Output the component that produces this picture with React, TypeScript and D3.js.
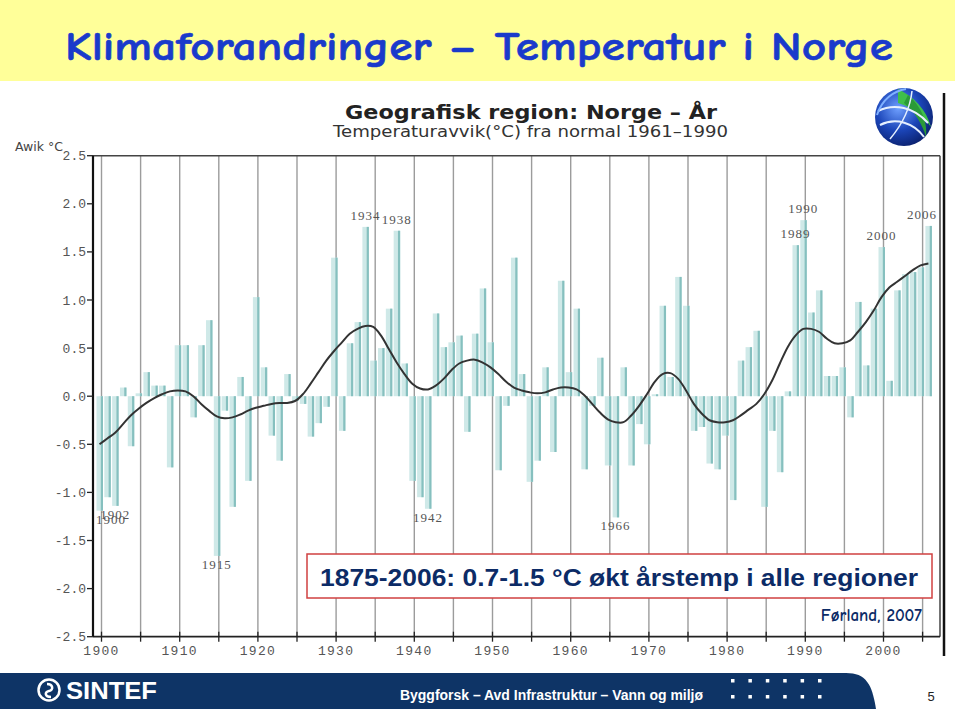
import React from "react";
import * as d3 from "d3";

// ---------- DATA ----------
const START_YEAR = 1900;
// Annual temperature anomaly (°C) from the 1961-1990 normal, 1900..2006
const ANOMALY = [
  -1.19, -1.05, -1.14, 0.09, -0.52, 0.03, 0.25, 0.11, 0.11, -0.74,
  0.53, 0.53, -0.22, 0.53, 0.79, -1.66, -0.15, -1.15, 0.2, -0.88,
  1.03, 0.3, -0.41, -0.67, 0.23, -0.05, -0.08, -0.42, -0.28, -0.11,
  1.44, -0.36, 0.55, 0.77, 1.76, 0.37, 0.5, 0.91, 1.72, 0.34,
  -0.88, -1.05, -1.17, 0.86, 0.51, 0.56, 0.63, -0.37, 0.65, 1.12,
  0.56, -0.77, -0.1, 1.44, 0.23, -0.89, -0.67, 0.3, -0.58, 1.2,
  0.25, 0.91, -0.76, -0.1, 0.4, -0.72, -1.26, 0.3, -0.72, -0.29,
  -0.5, 0.02, 0.94, 0.2, 1.24, 0.94, -0.36, -0.32, -0.7, -0.76,
  -0.41, -1.08, 0.37, 0.51, 0.68, -1.15, -0.36, -0.79, 0.05, 1.57,
  1.83, 0.87, 1.1, 0.21, 0.21, 0.3, -0.22, 0.98, 0.32, 0.91,
  1.55, 0.16, 1.1, 1.27, 1.29, 1.34, 1.77,
];
// Smoothed curve (°C), 1900..2006
const SMOOTH = [
  -0.5, -0.44, -0.38, -0.29, -0.2, -0.13, -0.07, -0.02, 0.02, 0.05,
  0.06, 0.05, 0.0, -0.08, -0.15, -0.21, -0.23, -0.22, -0.19, -0.15,
  -0.12, -0.1, -0.08, -0.07, -0.07, -0.05, 0.02, 0.13, 0.25, 0.37,
  0.47, 0.56, 0.65, 0.7, 0.73, 0.72, 0.63, 0.49, 0.35, 0.23,
  0.13, 0.08, 0.07, 0.11, 0.18, 0.27, 0.34, 0.37, 0.38, 0.35,
  0.3, 0.23, 0.15, 0.09, 0.06, 0.04, 0.03, 0.04, 0.07, 0.09,
  0.09, 0.07, 0.01, -0.08, -0.17, -0.24, -0.27, -0.27, -0.2, -0.1,
  0.02, 0.15, 0.23, 0.24, 0.18, 0.06, -0.08, -0.18, -0.25, -0.27,
  -0.27, -0.25, -0.2, -0.14, -0.08, 0.02, 0.16, 0.34, 0.51, 0.63,
  0.7, 0.7, 0.67, 0.6, 0.55, 0.55, 0.58, 0.67, 0.77, 0.89,
  1.03, 1.13, 1.19, 1.25, 1.31, 1.36, 1.38,
];
const Y_TICKS = [2.5, 2.0, 1.5, 1.0, 0.5, 0.0, -0.5, -1.0, -1.5, -2.0, -2.5];
const X_LABEL_YEARS = [1900, 1910, 1920, 1930, 1940, 1950, 1960, 1970, 1980, 1990, 2000];
const GRID_YEARS = [1900, 1905, 1910, 1915, 1920, 1925, 1930, 1935, 1940, 1945, 1950, 1955, 1960, 1965, 1970, 1975, 1980, 1985, 1990, 1995, 2000, 2005];
const MARKED_YEARS = [1900, 1902, 1915, 1934, 1938, 1942, 1966, 1989, 1990, 2000, 2006];

const TITLE = "Klimaforandringer – Temperatur i Norge";
const CHART_TITLE = "Geografisk region: Norge – År";
const CHART_SUB = "Temperaturavvik(°C) fra normal 1961–1990";
const Y_LABEL = "Awik °C";
const NOTE = "1875-2006: 0.7-1.5 °C økt årstemp i alle regioner";
const SOURCE = "Førland, 2007";
const FOOTER = "Byggforsk – Avd Infrastruktur – Vann og miljø";
const PAGE = "5";

export default function App() {
  const W = 960, H = 709;
  const plot = { left: 93, right: 940, top: 155.7, bottom: 636.7 };
  const x = d3.scaleLinear().domain([1900, 2000]).range([101.5, 883.5]);
  const y = d3.scaleLinear().domain([-2.5, 2.5]).range([plot.bottom, plot.top]);
  const bars = ANOMALY.map((v, i) => ({ year: START_YEAR + i, v }));
  const smooth = SMOOTH.map((v, i) => ({ year: START_YEAR + i, v }));
  const line = d3
    .line<{ year: number; v: number }>()
    .x((d) => x(d.year) - 2)
    .y((d) => y(d.v))
    .curve(d3.curveCatmullRom.alpha(0.5));
  const bw = 6.5;
  const monoFont = "'Liberation Mono', 'DejaVu Sans Mono', monospace";

  return (
    <div style={{ position: "absolute", left: 0, top: 0, width: W, height: H }}>
      <style>{`body{margin:0}`}</style>
      <svg width={W} height={H} viewBox={`0 0 ${W} ${H}`} style={{ display: "block", background: "#fff" }}>
        <defs>
          <radialGradient id="globe" cx="40%" cy="35%" r="70%">
            <stop offset="0%" stopColor="#6fa0ff" />
            <stop offset="55%" stopColor="#1b45b8" />
            <stop offset="100%" stopColor="#0a1f6b" />
          </radialGradient>
        </defs>

        {/* Title band */}
        <rect x={0} y={0} width={955} height={81} fill="#ffff99" />
        <text
          x={65}
          y={60}
          fontFamily="'Comic Sans MS', 'Comic Neue', Lato, 'Open Sans', sans-serif"
          fontWeight="bold"
          fontSize={40}
          fill="#1a3acb"
          stroke="#1a3acb"
          strokeWidth={0.6}
          textLength={828}
          lengthAdjust="spacingAndGlyphs"
        >
          {TITLE}
        </text>

        {/* Chart header */}
        <text x={345} y={119} fontFamily="'DejaVu Sans', Verdana, sans-serif" fontWeight="bold" fontSize={20} fill="#222" textLength={372} lengthAdjust="spacingAndGlyphs">
          {CHART_TITLE}
        </text>
        <text x={333} y={137} fontFamily="'DejaVu Sans', Verdana, sans-serif" fontSize={15} fill="#333" textLength={395} lengthAdjust="spacingAndGlyphs">
          {CHART_SUB}
        </text>

        {/* Globe logo */}
        <g transform="translate(904,117)">
          <circle r={29} fill="url(#globe)" />
          <path d="M-6,-28 C10,-20 22,-8 27,10 C20,0 8,-10 -6,-14 Z" fill="#3fbf4a" />
          <path d="M4,-22 C16,-12 24,4 22,20 C18,6 10,-6 0,-14 Z" fill="#2a9a38" />
          <path d="M-26,-6 C-10,-14 10,-10 24,6" stroke="#e6f0ff" strokeWidth={2} fill="none" />
          <path d="M-24,8 C-8,0 10,6 20,20" stroke="#e6f0ff" strokeWidth={2} fill="none" />
          <path d="M-14,22 C-4,10 6,-6 8,-26" stroke="#e6f0ff" strokeWidth={1.5} fill="none" />
          <path d="M-27,-2 C-22,-18 -10,-26 2,-28" stroke="#7fb0ff" strokeWidth={2} fill="none" />
        </g>

        {/* Outer image border on the right */}
        <line x1={944} x2={944} y1={93} y2={656} stroke="#111" strokeWidth={2.5} />

        {/* Grid lines every 5 years */}
        {GRID_YEARS.map((yr) => (
          <line key={"g" + yr} x1={x(yr)} x2={x(yr)} y1={plot.top} y2={plot.bottom} stroke="#9c9c9c" strokeWidth={1.4} />
        ))}

        {/* Bars */}
        {bars.map((d) => {
          const y0 = y(0);
          const y1 = y(d.v);
          const top = Math.min(y0, y1);
          const h = Math.abs(y1 - y0);
          const left = x(d.year) - 5;
          return (
            <g key={"b" + d.year}>
              <rect x={left} y={top} width={bw} height={h} fill="#cfe9e8" />
              <rect x={left + bw - 2.2} y={top} width={2.2} height={h} fill="#86c0bf" />
            </g>
          );
        })}

        {/* Smoothed curve */}
        <path d={line(smooth) || ""} fill="none" stroke="#333" strokeWidth={2} />

        {/* Frame */}
        <line x1={plot.left} x2={plot.right} y1={plot.top} y2={plot.top} stroke="#444" strokeWidth={1.5} />
        <line x1={plot.right} x2={plot.right} y1={plot.top} y2={plot.bottom} stroke="#444" strokeWidth={1.5} />
        <line x1={plot.left} x2={plot.right} y1={plot.bottom} y2={plot.bottom} stroke="#222" strokeWidth={1.8} />
        <line x1={plot.left} x2={plot.left} y1={plot.top} y2={plot.bottom} stroke="#111" strokeWidth={2.2} />

        {/* Y ticks and labels */}
        {Y_TICKS.map((t) => (
          <g key={"y" + t}>
            <line x1={plot.left - 6} x2={plot.left} y1={y(t)} y2={y(t)} stroke="#222" strokeWidth={1.3} />
            <text x={plot.left - 7} y={y(t)} dy="0.35em" textAnchor="end" fontFamily={monoFont} fontSize={13} fill="#555">
              {t.toFixed(1)}
            </text>
          </g>
        ))}
        <text x={15} y={151} fontFamily="'DejaVu Sans', Verdana, sans-serif" fontSize={12.5} fill="#444">
          {Y_LABEL}
        </text>

        {/* X ticks and labels */}
        {GRID_YEARS.map((yr) => (
          <line key={"xt" + yr} x1={x(yr)} x2={x(yr)} y1={plot.bottom - 5} y2={plot.bottom + 5} stroke="#222" strokeWidth={1.3} />
        ))}
        {X_LABEL_YEARS.map((yr) => (
          <text key={"xl" + yr} x={x(yr)} y={655} textAnchor="middle" fontFamily={monoFont} fontSize={13} letterSpacing={1.3} fill="#555">
            {yr}
          </text>
        ))}

        {/* Marked extreme years */}
        {MARKED_YEARS.map((yr) => {
          const v = ANOMALY[yr - START_YEAR];
          const half = 18;
          let cx = x(yr) - 2;
          cx = Math.max(plot.left + half, Math.min(plot.right - half, cx));
          const ty = v >= 0 ? y(v) - 7 : y(v) + 13;
          return (
            <text key={"m" + yr} x={cx} y={ty} textAnchor="middle" fontFamily="'Liberation Serif', 'DejaVu Serif', serif" fontSize={13} letterSpacing={1} fill="#555">
              {yr}
            </text>
          );
        })}

        {/* Note box */}
        <rect x={307} y={554} width={625} height={44} fill="#fff" stroke="#d04040" strokeWidth={1.5} />
        <text x={320} y={586} fontFamily="'Liberation Sans', Arial, sans-serif" fontWeight="bold" fontSize={23} fill="#0c2b66" textLength={598} lengthAdjust="spacingAndGlyphs">
          {NOTE}
        </text>
        <text x={922} y={621} textAnchor="end" fontFamily="'Comic Sans MS', 'Comic Neue', Lato, sans-serif" fontWeight="bold" fontSize={17} fill="#0c2b66">
          {SOURCE}
        </text>

        {/* Footer band */}
        <path d="M0,673 H846 C866,673 872,684 876,709 H0 Z" fill="#0e3466" />
        <g transform="translate(49,690)">
          <circle r={10.5} fill="none" stroke="#fff" strokeWidth={2.5} />
          <path d="M-2,-6 C4,-6 5,0 0,1 C-5,2 -4,7 2,7" stroke="#fff" strokeWidth={2.5} fill="none" />
        </g>
        <text x={66} y={699} fontFamily="'Liberation Sans', Arial, sans-serif" fontWeight="bold" fontSize={24} fill="#fff" textLength={91} lengthAdjust="spacingAndGlyphs">
          SINTEF
        </text>
        <text x={400} y={700} fontFamily="'Liberation Sans Narrow', 'Liberation Sans', Arial, sans-serif" fontWeight="bold" fontSize={14} fill="#fff" textLength={303} lengthAdjust="spacingAndGlyphs">
          {FOOTER}
        </text>
        {[0, 1, 2, 3, 4, 5].map((i) => (
          <g key={"dot" + i}>
            <rect x={731 + i * 17.4} y={679} width={3.5} height={3.5} fill="#fff" />
            <rect x={731 + i * 17.4} y={695} width={3.5} height={3.5} fill="#fff" />
          </g>
        ))}
        <text x={931} y={701} textAnchor="middle" fontFamily="'Liberation Sans', Arial, sans-serif" fontSize={13} fill="#222">
          {PAGE}
        </text>
      </svg>
    </div>
  );
}
